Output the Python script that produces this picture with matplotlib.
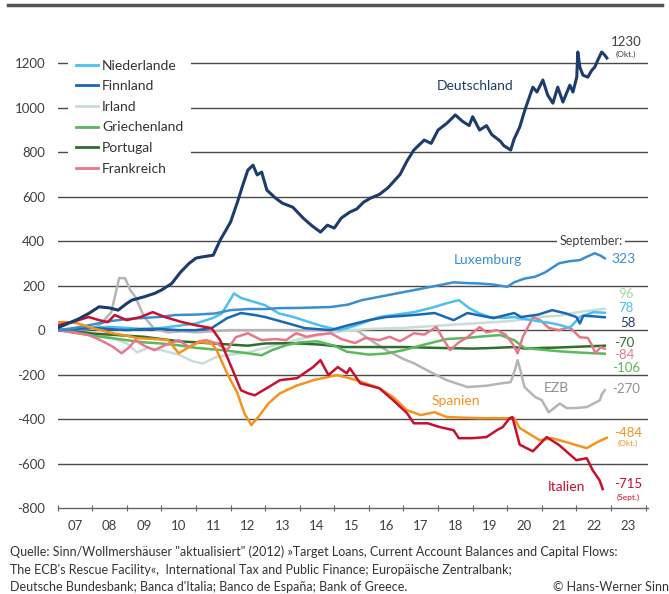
import matplotlib
matplotlib.use("Agg")
import matplotlib.pyplot as plt
from matplotlib.lines import Line2D

plt.rcParams['font.family'] = ['Lato', 'DejaVu Sans']

# ---------------- data (bn EUR) ----------------
de_x = [2007.0, 2007.3, 2007.6, 2007.9, 2008.2, 2008.5, 2008.75, 2009.0, 2009.15, 2009.5, 2009.8, 2010.0,
        2010.3, 2010.55, 2010.8, 2011.0, 2011.2, 2011.5, 2011.7, 2011.85, 2012.0, 2012.2, 2012.35, 2012.5,
        2012.65, 2012.77, 2012.9, 2013.05, 2013.3, 2013.5, 2013.8, 2014.1, 2014.35, 2014.6, 2014.8, 2015.0,
        2015.2, 2015.45, 2015.65, 2015.85, 2016.05, 2016.3, 2016.55, 2016.9, 2017.1, 2017.3, 2017.6, 2017.8,
        2018.0, 2018.25, 2018.5, 2018.7, 2018.9, 2019.0, 2019.2, 2019.4, 2019.55, 2019.8, 2019.9, 2020.1,
        2020.2, 2020.36, 2020.51, 2020.74, 2020.86, 2021.03, 2021.17, 2021.32, 2021.46, 2021.61, 2021.81,
        2021.9, 2022.01, 2022.04, 2022.1, 2022.19, 2022.33, 2022.45, 2022.53, 2022.62, 2022.73, 2022.82, 2022.88]
de_y = [10, 30, 50, 75, 105, 100, 90, 120, 135, 150, 165, 180,
        210, 260, 300, 324, 330, 337, 405, 445, 486, 576, 650, 720,
        742, 698, 711, 630, 594, 571, 553, 504, 470, 441, 472, 459,
        504, 531, 545, 576, 594, 610, 640, 700, 760, 810, 855, 840,
        900, 930, 968, 940, 920, 960, 900, 920, 880, 850, 830, 810,
        860, 913, 990, 1093, 1071, 1125, 1057, 1021, 1093, 1026, 1102,
        1071, 1138, 1251, 1183, 1147, 1138, 1170, 1183, 1215, 1251, 1237, 1224]

lu_x = [2007.0, 2007.5, 2008.0, 2008.5, 2009.0, 2009.5, 2010.0, 2010.4, 2011.0, 2011.55, 2012.0, 2012.5,
        2013.0, 2013.4, 2014.0, 2014.9, 2015.4, 2015.8, 2016.3, 2016.8, 2017.3, 2017.8, 2018.45, 2018.8,
        2019.2, 2019.6, 2020.0, 2020.2, 2020.5, 2020.8, 2021.1, 2021.5, 2021.8, 2022.1, 2022.3, 2022.53,
        2022.7, 2022.82]
lu_y = [0, 10, 25, 40, 50, 55, 60, 68, 70, 75, 90, 95,
        95, 99, 100, 104, 115, 135, 150, 165, 180, 195, 215, 212,
        210, 205, 195, 215, 232, 240, 260, 301, 310, 315, 330, 346,
        335, 323]

nl_x = [2007.0, 2007.5, 2008.0, 2008.5, 2009.0, 2009.5, 2010.0, 2010.5, 2011.0, 2011.5, 2011.75, 2012.1,
        2012.3, 2012.7, 2013.0, 2013.4, 2013.8, 2014.2, 2014.6, 2015.15, 2015.6, 2016.3, 2016.8, 2017.3,
        2017.8, 2018.25, 2018.6, 2018.9, 2019.2, 2019.5, 2019.9, 2020.2, 2020.5, 2020.9, 2021.3, 2021.6,
        2021.8, 2022.1, 2022.5, 2022.82]
nl_y = [0, 5, 10, 15, 10, 5, 10, 20, 30, 55, 75, 165,
        145, 126, 112, 75, 60, 40, 20, 0, 20, 59, 70, 81,
        100, 121, 135, 99, 75, 59, 55, 59, 50, 40, 31, 20,
        9, 59, 81, 78]

fi_x = [2007.0, 2007.5, 2008.0, 2008.5, 2009.0, 2009.5, 2010.0, 2010.5, 2011.0, 2011.45, 2011.9, 2012.3,
        2012.7, 2013.0, 2013.65, 2014.15, 2014.9, 2015.4, 2016.0, 2016.5, 2017.3, 2017.9, 2018.45, 2018.85,
        2019.6, 2020.2, 2020.4, 2020.9, 2021.3, 2021.7, 2022.0, 2022.1, 2022.2, 2022.5, 2022.82]
fi_y = [0, 5, 10, 5, 0, 5, 5, 0, 0, 9, 54, 77,
        68, 59, 31, 9, 0, 22, 45, 59, 68, 77, 45, 77,
        54, 77, 59, 70, 90, 75, 59, 30, 65, 62, 58]

ie_x = [2007.0, 2007.5, 2008.0, 2008.5, 2009.0, 2009.3, 2009.6, 2010.0, 2010.5, 2010.9, 2011.2, 2011.6,
        2012.0, 2012.5, 2013.0, 2013.5, 2014.0, 2014.5, 2015.0, 2015.5, 2016.0, 2017.0, 2018.0, 2019.0,
        2020.0, 2020.6, 2021.0, 2021.5, 2022.0, 2022.5, 2022.82]
ie_y = [0, -5, -15, -30, -60, -100, -80, -90, -110, -140, -150, -120,
        -110, -100, -80, -60, -40, -25, -10, 0, 5, 10, 20, 30,
        40, 50, 60, 65, 80, 90, 96]

gr_x = [2007.0, 2007.5, 2008.0, 2008.5, 2009.0, 2009.5, 2010.0, 2010.5, 2011.0, 2011.75, 2012.3, 2012.9,
        2013.2, 2013.6, 2014.0, 2014.5, 2015.0, 2015.36, 2016.0, 2016.5, 2017.0, 2017.6, 2018.25, 2018.85,
        2019.3, 2019.8, 2020.2, 2020.5, 2021.0, 2021.5, 2022.0, 2022.5, 2022.82]
gr_y = [0, -10, -25, -35, -45, -55, -60, -68, -80, -90, -100, -113,
        -90, -68, -55, -50, -70, -97, -110, -105, -90, -65, -40, -35,
        -28, -22, -45, -80, -88, -95, -100, -104, -106]

pt_x = [2007.0, 2007.5, 2008.0, 2008.5, 2009.0, 2009.5, 2010.0, 2010.5, 2011.0, 2011.5, 2012.0, 2012.5,
        2013.0, 2013.4, 2014.0, 2014.6, 2015.3, 2016.0, 2017.0, 2018.0, 2019.0, 2019.6, 2020.2, 2020.5,
        2021.0, 2021.5, 2022.0, 2022.5, 2022.82]
pt_y = [0, -5, -15, -20, -25, -30, -40, -50, -55, -60, -65, -70,
        -60, -59, -60, -65, -76, -76, -76, -80, -83, -80, -76, -83,
        -80, -78, -75, -72, -70]

fr_x = [2007.0, 2007.4, 2007.9, 2008.1, 2008.4, 2008.6, 2008.85, 2009.05, 2009.25, 2009.5, 2009.8, 2010.1,
        2010.5, 2010.8, 2011.1, 2011.3, 2011.6, 2011.9, 2012.15, 2012.5, 2012.9, 2013.3, 2013.6, 2013.9,
        2014.2, 2014.5, 2014.9, 2015.2, 2015.6, 2015.9, 2016.3, 2016.6, 2016.9, 2017.3, 2017.6, 2017.95,
        2018.15, 2018.35, 2018.6, 2018.85, 2019.2, 2019.4, 2019.7, 2019.95, 2020.15, 2020.3, 2020.45, 2020.6,
        2020.75, 2020.95, 2021.2, 2021.5, 2021.8, 2022.1, 2022.33, 2022.45, 2022.55, 2022.7, 2022.82]
fr_y = [0, -10, -22, -35, -58, -75, -104, -80, -45, -70, -90, -68,
        -45, -76, -50, -45, -60, -90, -32, -14, -45, -40, -45, -14,
        -30, -20, -14, -40, -58, -35, -45, -30, -50, -14, -20, 14,
        -40, -90, -55, -32, 14, -10, 0, -20, -60, -104, -30, 14,
        59, 45, 10, 0, 14, -32, -35, -68, -104, -76, -84]

ezb_x = [2007.0, 2007.5, 2007.9, 2008.2, 2008.55, 2008.78, 2008.95, 2009.1, 2009.25, 2009.5, 2009.8, 2010.2,
         2010.6, 2011.0, 2011.5, 2012.0, 2013.0, 2014.0, 2015.0, 2015.65, 2016.0, 2016.5, 2017.0, 2017.3,
         2017.8, 2018.25, 2018.85, 2019.4, 2019.8, 2020.1, 2020.22, 2020.3, 2020.38, 2020.5, 2020.8, 2021.0,
         2021.2, 2021.52, 2021.72, 2022.0, 2022.3, 2022.5, 2022.68, 2022.73, 2022.82]
ezb_y = [0, 0, 5, 20, 80, 234, 234, 180, 149, 60, 5, -10,
         -5, -10, -5, 0, 0, 0, 0, 0, -40, -90, -130, -149,
         -190, -225, -256, -250, -240, -234, -180, -135, -180, -256, -300, -315,
         -370, -330, -351, -350, -346, -330, -315, -290, -270]

es_x = [2007.0, 2007.3, 2007.6, 2008.0, 2008.6, 2009.0, 2009.3, 2009.8, 2010.2, 2010.5, 2010.65, 2010.8,
        2011.1, 2011.45, 2011.6, 2011.9, 2012.2, 2012.4, 2012.6, 2012.8, 2013.1, 2013.43, 2013.9, 2014.4,
        2015.08, 2015.65, 2016.3, 2016.7, 2017.1, 2017.5, 2017.9, 2018.25, 2019.2, 2019.8, 2020.2, 2020.36,
        2020.6, 2020.94, 2021.3, 2021.8, 2022.3, 2022.6, 2022.88]
es_y = [36, 36, 30, 9, -14, -25, -36, -40, -45, -104, -90, -76,
        -54, -58, -90, -194, -284, -374, -427, -391, -329, -284, -250, -225,
        -202, -225, -261, -301, -360, -382, -369, -391, -396, -396, -396, -440,
        -463, -495, -486, -508, -531, -504, -484]

it_x = [2007.0, 2007.5, 2007.9, 2008.2, 2008.45, 2008.65, 2009.0, 2009.4, 2009.75, 2010.1, 2010.6, 2011.0,
        2011.45, 2011.7, 2011.9, 2012.1, 2012.3, 2012.5, 2012.7, 2013.1, 2013.43, 2013.92, 2014.39, 2014.6,
        2014.83, 2015.1, 2015.36, 2015.45, 2015.75, 2016.3, 2016.7, 2017.1, 2017.3, 2017.7, 2018.05, 2018.45,
        2018.6, 2018.98, 2019.4, 2019.7, 2019.87, 2020.07, 2020.15, 2020.36, 2020.74, 2021.14, 2021.5, 2022.0,
        2022.3, 2022.47, 2022.67, 2022.76]
it_y = [22, 40, 59, 45, 36, 68, 45, 59, 81, 59, 36, 22,
        9, -45, -120, -194, -270, -284, -293, -256, -225, -216, -166, -135,
        -202, -166, -194, -171, -239, -261, -315, -373, -419, -419, -436, -450,
        -486, -486, -481, -450, -436, -396, -391, -515, -545, -481, -517, -585,
        -576, -630, -675, -715]

year_labels = ['07', '08', '09', '10', '11', '12', '13', '14', '15', '16', '17', '18', '19', '20', '21', '22', '23']
y_ticks = [-800, -600, -400, -200, 0, 200, 400, 600, 800, 1000, 1200]

# ---------------- figure ----------------
W, H = 669, 594
fig = plt.figure(figsize=(W / 100, H / 100), dpi=100)
ax = fig.add_axes([57.6 / W, 1 - 508 / H, (648 - 57.6) / W, (508 - 20) / H])
ax.set_xlim(2007.0, 2024.07)
ax.set_ylim(-800, 1395)

C_DE = '#1c3d6b'
C_LU = '#3b8ed0'
C_NL = '#4cc0f0'
C_FI = '#1a67b5'
C_IE = '#c9ddd6'
C_GR = '#5cb85c'
C_PT = '#2f6e2f'
C_FR = '#e6788a'
C_EZB = '#b5b5b5'
C_ES = '#f7921e'
C_IT = '#c8102e'

lw = 1.8
ax.plot(ezb_x, ezb_y, color=C_EZB, lw=lw, zorder=3)
ax.plot(ie_x, ie_y, color=C_IE, lw=lw, zorder=3)
ax.plot(pt_x, pt_y, color=C_PT, lw=lw, zorder=3)
ax.plot(gr_x, gr_y, color=C_GR, lw=lw, zorder=3)
ax.plot(fr_x, fr_y, color=C_FR, lw=lw, zorder=3)
ax.plot(nl_x, nl_y, color=C_NL, lw=lw, zorder=3)
ax.plot(fi_x, fi_y, color=C_FI, lw=lw, zorder=3)
ax.plot(lu_x, lu_y, color=C_LU, lw=lw, zorder=3)
ax.plot(es_x, es_y, color=C_ES, lw=lw, zorder=4)
ax.plot(it_x, it_y, color=C_IT, lw=lw, zorder=4)
ax.plot(de_x, de_y, color=C_DE, lw=2.2, zorder=4)

# grid
for yv in y_ticks[1:]:
    ax.axhline(yv, color='#4a4a4a', lw=1.0, zorder=1)

for s in ['top', 'right', 'left']:
    ax.spines[s].set_visible(False)
ax.spines['bottom'].set_color('#666666')
ax.spines['bottom'].set_linewidth(1.0)

ax.set_yticks(y_ticks)
ax.set_yticklabels([str(v) for v in y_ticks])
ax.tick_params(axis='y', length=0, pad=9, labelsize=9.5, labelcolor='#404040')

ax.set_xticks(list(range(2007, 2025)))
ax.set_xticklabels([])
ax.set_xticks([2007.5 + i for i in range(len(year_labels))], minor=True)
ax.set_xticklabels(year_labels, minor=True)
ax.tick_params(axis='x', which='major', direction='inout', length=5, color='#666666')
ax.tick_params(axis='x', which='minor', length=0, pad=9, labelsize=9.5, labelcolor='#404040')

# legend
hd = [Line2D([], [], color=c, lw=2) for c in [C_NL, C_FI, C_IE, C_GR, C_PT, C_FR]]
lb = ['Niederlande', 'Finnland', 'Irland', 'Griechenland', 'Portugal', 'Frankreich']
leg = fig.legend(hd, lb, loc='upper left', bbox_to_anchor=(68 / W, 1 - 52 / H),
                 frameon=True, facecolor='white', edgecolor='none', framealpha=1,
                 fontsize=10, labelspacing=0.62, handlelength=1.6, handletextpad=0.3,
                 borderpad=0.55, borderaxespad=0)
leg.set_zorder(5)
for t in leg.get_texts():
    t.set_color('#333333')

# series annotations
ax.text(2019.07, 1098, 'Deutschland', color=C_DE, fontsize=10, ha='center', va='center', zorder=6)
ax.text(2019.44, 315, 'Luxemburg', color=C_LU, fontsize=10, ha='center', va='center', zorder=6)
ax.text(2018.52, -320, 'Spanien', color=C_ES, fontsize=10, ha='center', va='center', zorder=6)
ax.text(2021.41, -262, 'EZB', color='#8f8f8f', fontsize=10, ha='center', va='center', zorder=6)
ax.text(2021.7, -706, 'Italien', color=C_IT, fontsize=10, ha='center', va='center', zorder=6)
ax.text(2022.42, 400, 'September:', color='#404040', fontsize=9, ha='center', va='center', zorder=6,
        bbox=dict(facecolor='white', edgecolor='none', pad=1.5))

xr = 2023.43
ax.text(xr, 1296, '1230', color='#404040', fontsize=9.5, ha='center', va='center', zorder=6)
ax.text(xr, 1238, '(Okt.)', color='#404040', fontsize=6, ha='center', va='center', zorder=6)
ax.text(2023.35, 318, '323', color=C_LU, fontsize=10, ha='center', va='center', zorder=6)
ax.text(xr, 162, '96', color='#a8d8a0', fontsize=9.5, ha='center', va='center', zorder=6)
ax.text(xr, 99, '78', color=C_NL, fontsize=9.5, ha='center', va='center', zorder=6)
ax.text(2023.5, 31, '58', color=C_DE, fontsize=9.5, ha='center', va='center', zorder=6)
ax.text(2023.38, -58, '-70', color=C_PT, fontsize=9.5, ha='center', va='center', zorder=6)
ax.text(2023.38, -112, '-84', color=C_FR, fontsize=9.5, ha='center', va='center', zorder=6)
ax.text(xr, -170, '-106', color=C_GR, fontsize=9.5, ha='center', va='center', zorder=6)
ax.text(xr, -265, '-270', color='#8f8f8f', fontsize=9.5, ha='center', va='center', zorder=6)
ax.text(2023.5, -464, '-484', color=C_ES, fontsize=9.5, ha='center', va='center', zorder=6)
ax.text(2023.5, -510, '(Okt.)', color=C_ES, fontsize=6, ha='center', va='center', zorder=6)
ax.text(2023.5, -693, '-715', color=C_IT, fontsize=9.5, ha='center', va='center', zorder=6)
ax.text(2023.5, -751, '(Sept.)', color=C_IT, fontsize=6, ha='center', va='center', zorder=6)

# top rule
fig.add_artist(Line2D([8 / W, 662 / W], [1 - 5 / H, 1 - 5 / H], color='#555555', lw=2.5))

# source
src = ['Quelle: Sinn/Wollmershäuser "aktualisiert" (2012) »Target Loans, Current Account Balances and Capital Flows:',
       'The ECB\'s Rescue Facility«,  International Tax and Public Finance; Europäische Zentralbank;',
       'Deutsche Bundesbank; Banca d\'Italia; Banco de España; Bank of Greece.']
for i, s in enumerate(src):
    fig.text(10 / W, 1 - (552 + 17.5 * i) / H, s, fontsize=9.0, color='#333333', ha='left', va='center')
fig.text(553 / W, 1 - 587 / H, '© Hans-Werner Sinn', fontsize=9.0, color='#333333', ha='left', va='center')

fig.savefig('out.png', dpi=100)
